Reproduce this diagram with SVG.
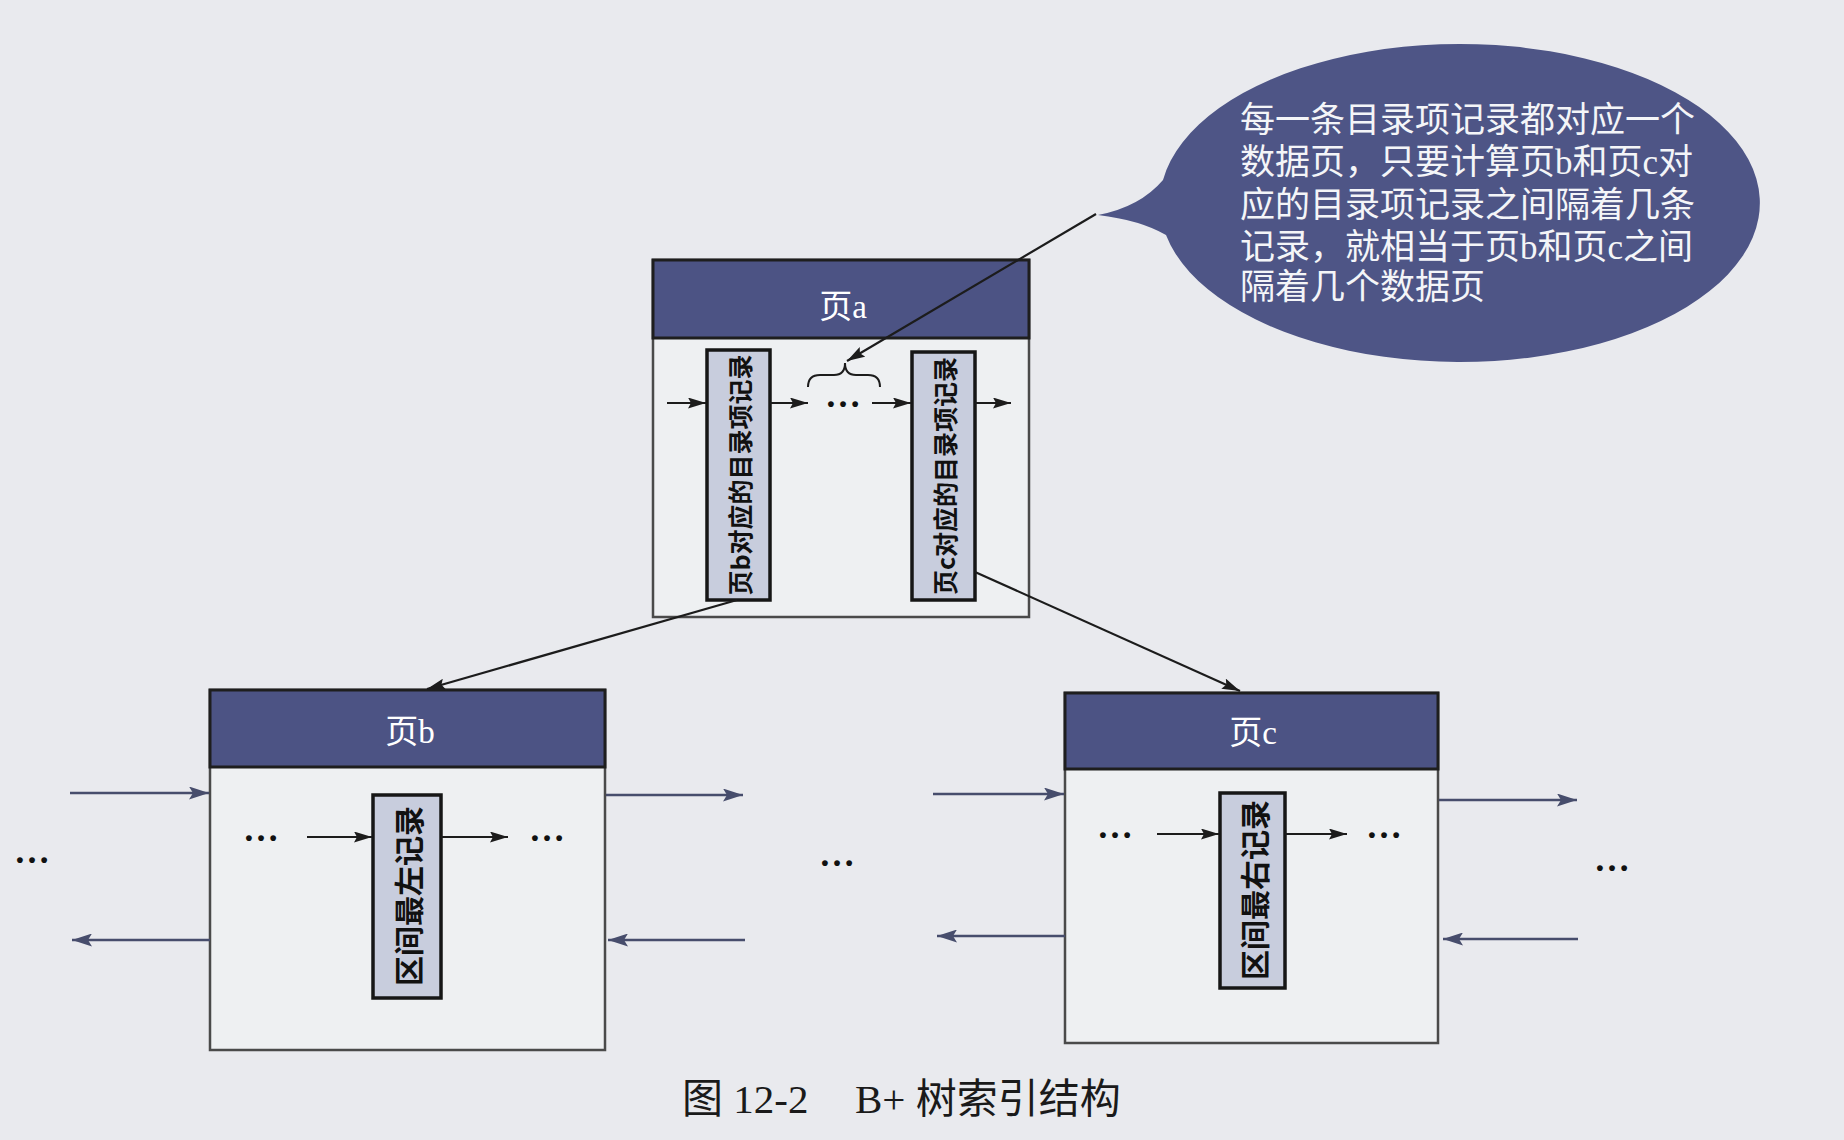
<svg xmlns="http://www.w3.org/2000/svg" width="1844" height="1140" viewBox="0 0 1844 1140">
  <defs>
    <marker id="ah" viewBox="0 0 18 11" refX="18" refY="5.5" markerWidth="18" markerHeight="11" markerUnits="userSpaceOnUse" orient="auto">
      <path d="M0,0 L18,5.5 L0,11 L3,5.5 Z" fill="#1c1c1c"/>
    </marker>
    <marker id="ahb" viewBox="0 0 20 13" refX="20" refY="6.5" markerWidth="20" markerHeight="13" markerUnits="userSpaceOnUse" orient="auto">
      <path d="M0,0 L20,6.5 L0,13 L4,6.5 Z" fill="#474d6c"/>
    </marker>
    <style>
      .body { fill: #eef0f2; stroke: #4a4a4a; stroke-width: 2.5; }
      .head { fill: #4c5384; stroke: #1e1e1e; stroke-width: 3; }
      .htxt { fill: #ffffff; font-family: "Liberation Serif", "Noto Sans CJK SC", serif; font-size: 33px; text-anchor: middle; }
      .rec { fill: #c8cddd; stroke: #161616; stroke-width: 3.5; }
      .rtxt { fill: #111; font-family: "Noto Sans CJK SC", "Liberation Sans", sans-serif; font-weight: bold; text-anchor: middle; dominant-baseline: central; }
      .arr { stroke: #1c1c1c; stroke-width: 2.2; fill: none; marker-end: url(#ah); }
      .oarr { stroke: #474d6c; stroke-width: 2.5; fill: none; marker-end: url(#ahb); }
      .dots { fill: #111; font-family: "Liberation Serif", serif; font-weight: bold; font-size: 36px; text-anchor: middle; }
      .ctxt { fill: #f4f5f8; font-family: "Liberation Serif", "Noto Sans CJK SC", serif; font-size: 35px; }
      .cap { fill: #1a1a1a; font-family: "Liberation Serif", "Noto Sans CJK SC", serif; font-size: 41px; }
    </style>
  </defs>

  <rect x="0" y="0" width="1844" height="1140" fill="#e9eaee"/>

  <!-- Page a -->
  <g id="page-a">
    <rect class="body" x="653" y="260" width="376" height="357"/>
    <rect class="head" x="653" y="260" width="376" height="78"/>
    <text class="htxt" x="843" y="318">页a</text>
    <rect class="rec" x="707" y="350" width="63" height="250"/>
    <text class="rtxt" font-size="25" transform="translate(738.5,475) rotate(-90)">页b对应的目录项记录</text>
    <rect class="rec" x="912" y="352" width="63" height="248"/>
    <text class="rtxt" font-size="25" transform="translate(943.5,476) rotate(-90)">页c对应的目录项记录</text>
    <path d="M808 387 Q808 375 820 375 L834 375 Q845 375 845 363 Q845 375 856 375 L868 375 Q880 375 880 387" fill="none" stroke="#1c1c1c" stroke-width="2"/>
    <text class="dots" x="843" y="407">…</text>
  </g>

  <!-- Page b -->
  <g id="page-b">
    <rect class="body" x="210" y="690" width="395" height="360"/>
    <rect class="head" x="210" y="690" width="395" height="77"/>
    <text class="htxt" x="410" y="743">页b</text>
    <rect class="rec" x="373" y="795" width="68" height="203"/>
    <text class="rtxt" font-size="30" transform="translate(407,896) rotate(-90)">区间最左记录</text>
    <text class="dots" x="261" y="841">…</text>
    <text class="dots" x="547" y="841">…</text>
  </g>

  <!-- Page c -->
  <g id="page-c">
    <rect class="body" x="1065" y="693" width="373" height="350"/>
    <rect class="head" x="1065" y="693" width="373" height="76"/>
    <text class="htxt" x="1253" y="744">页c</text>
    <rect class="rec" x="1220" y="793" width="65" height="195"/>
    <text class="rtxt" font-size="30" transform="translate(1252.5,890) rotate(-90)">区间最右记录</text>
    <text class="dots" x="1115" y="838">…</text>
    <text class="dots" x="1384" y="838">…</text>
  </g>

  <!-- free dots between pages -->
  <g id="gaps">
    <text class="dots" x="32" y="863">…</text>
    <text class="dots" x="837" y="866">…</text>
    <text class="dots" x="1612" y="871">…</text>
  </g>

  <!-- Callout -->
  <g id="callout">
    <path d="M1163 180 Q1140 207 1098 215 Q1140 220 1166 235 A300 159 0 1 0 1163 180 Z" fill="#4e5586"/>
    <text class="ctxt">
      <tspan x="1240" y="132">每一条目录项记录都对应一个</tspan>
      <tspan x="1240" y="174">数据页，只要计算页b和页c对</tspan>
      <tspan x="1240" y="217">应的目录项记录之间隔着几条</tspan>
      <tspan x="1240" y="259">记录，就相当于页b和页c之间</tspan>
      <tspan x="1240" y="299">隔着几个数据页</tspan>
    </text>
  </g>

  <!-- Connectors -->
  <g id="connectors">
    <line class="arr" x1="1096" y1="214" x2="847" y2="361"/>
    <line class="arr" x1="667" y1="403" x2="706" y2="403"/>
    <line class="arr" x1="770" y1="403" x2="808" y2="403"/>
    <line class="arr" x1="872" y1="403" x2="911" y2="403"/>
    <line class="arr" x1="975" y1="403" x2="1011" y2="403"/>
    <line class="arr" x1="737" y1="600" x2="427" y2="689"/>
    <line class="arr" x1="975" y1="572" x2="1240" y2="691"/>
    <line class="arr" x1="307" y1="837" x2="372" y2="837"/>
    <line class="arr" x1="441" y1="837" x2="508" y2="837"/>
    <line class="arr" x1="1157" y1="834" x2="1219" y2="834"/>
    <line class="arr" x1="1285" y1="834" x2="1347" y2="834"/>
    <line class="oarr" x1="70" y1="793" x2="209" y2="793"/>
    <line class="oarr" x1="210" y1="940" x2="72" y2="940"/>
    <line class="oarr" x1="606" y1="795" x2="743" y2="795"/>
    <line class="oarr" x1="745" y1="940" x2="608" y2="940"/>
    <line class="oarr" x1="933" y1="794" x2="1064" y2="794"/>
    <line class="oarr" x1="1065" y1="936" x2="937" y2="936"/>
    <line class="oarr" x1="1439" y1="800" x2="1577" y2="800"/>
    <line class="oarr" x1="1578" y1="939" x2="1443" y2="939"/>
  </g>

  <!-- Caption -->
  <g id="caption">
    <text class="cap" x="682" y="1113">图 12-2</text>
    <text class="cap" x="855" y="1113">B+ 树索引结构</text>
  </g>
</svg>
